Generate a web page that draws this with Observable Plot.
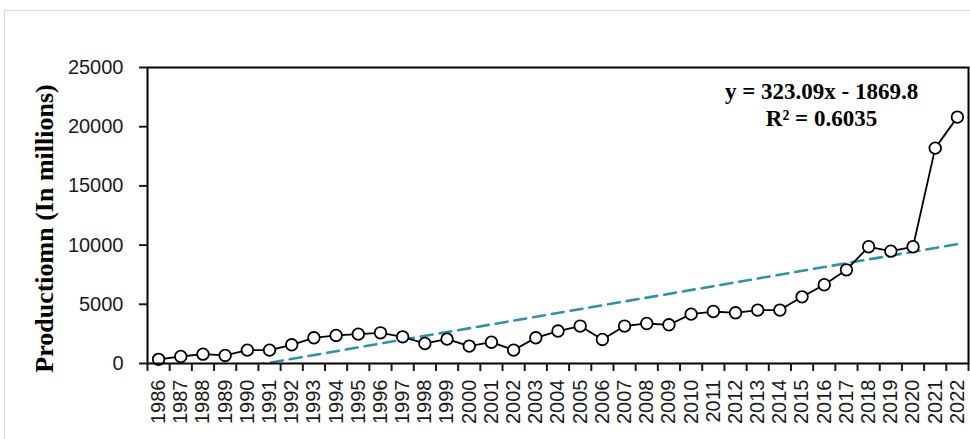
<!DOCTYPE html>
<html>
<head>
<meta charset="utf-8">
<script src="https://cdn.jsdelivr.net/npm/d3@7"></script>
<script src="https://cdn.jsdelivr.net/npm/@observablehq/plot@0.6"></script>
<style>
  html, body { margin: 0; padding: 0; background: #fff; overflow: hidden; }
  #wrap { position: relative; width: 970px; height: 439px; overflow: hidden; }
  #outer { position: absolute; left: 4px; top: 10px; width: 1000px; height: 500px; border: 1.5px solid #d9d9d9; box-sizing: border-box; }
  #chart { position: absolute; left: 0; top: 0; }
</style>
</head>
<body>
<div id="wrap"><div id="outer"></div><div id="chart"></div></div>
<script>
const years = [1986,1987,1988,1989,1990,1991,1992,1993,1994,1995,1996,1997,1998,1999,2000,2001,2002,2003,2004,2005,2006,2007,2008,2009,2010,2011,2012,2013,2014,2015,2016,2017,2018,2019,2020,2021,2022];
const production = [350,590,790,680,1130,1130,1580,2170,2370,2480,2590,2250,1690,2060,1470,1800,1130,2170,2740,3160,2030,3160,3380,3270,4170,4390,4280,4510,4510,5630,6650,7910,9860,9490,9860,18190,20810];
const yTicks = [0,5000,10000,15000,20000,25000];
const trendSlope = 323.09;
const trendIntercept = -1869.8;
const equationLabel = "y = 323.09x - 1869.8";
const r2Label = "R² = 0.6035";
const yAxisTitle = "Productiomn (In millions)";

const data = years.map((yr, i) => ({idx: i + 1, year: yr, value: production[i]}));
const idxs = data.map(d => d.idx);
const bounds = d3.range(0, years.length + 1).map(i => i + 0.5);
const trend = [1, years.length].map(x => ({x, y: trendSlope * x + trendIntercept}));

const plot = Plot.plot({
  width: 970,
  height: 439,
  marginLeft: 147,
  marginRight: 2,
  marginTop: 67,
  marginBottom: 76,
  style: {fontFamily: "'Liberation Sans', Arial, sans-serif", color: "#1a1a1a", background: "transparent"},
  x: {type: "linear", domain: [0.5, years.length + 0.5]},
  y: {domain: [0, 25000]},
  marks: [
    Plot.line(trend, {x: "x", y: "y", stroke: "#3390a8", strokeWidth: 2.6, strokeDasharray: "12,7", clip: true}),
    Plot.line(data, {x: "idx", y: "value", stroke: "#000", strokeWidth: 1.8}),
    Plot.dot(data, {x: "idx", y: "value", r: 5.8, fill: "#fff", stroke: "#000", strokeWidth: 1.8}),
    Plot.frame({stroke: "#000", strokeWidth: 2}),
    Plot.axisY({ticks: yTicks, tickSize: 8, tickPadding: 16, fontSize: 20, tickFormat: d => String(d), label: null, strokeWidth: 2}),
    Plot.axisX({ticks: bounds, tickSize: 8, tickFormat: () => "", label: null, strokeWidth: 2}),
    Plot.axisX({ticks: idxs, tickSize: 0, tickPadding: 16, tickRotate: -90, fontSize: 20, tickFormat: i => String(years[i - 1]), label: null}),
    Plot.text([equationLabel + "\n" + r2Label], {
      frameAnchor: "top-right", dx: -147, dy: 12, textAnchor: "middle", lineAnchor: "top",
      lineHeight: 1.17, fontSize: 23, fontWeight: "bold", fontFamily: "'Liberation Serif', 'Times New Roman', serif", fill: "#000"
    }),
    Plot.text([yAxisTitle], {
      frameAnchor: "left", dx: -103, dy: 13, rotate: -90, textAnchor: "middle",
      fontSize: 26, fontWeight: "bold", fontFamily: "'Liberation Serif', 'Times New Roman', serif", fill: "#000"
    })
  ]
});
document.getElementById("chart").appendChild(plot);
</script>
</body>
</html>
